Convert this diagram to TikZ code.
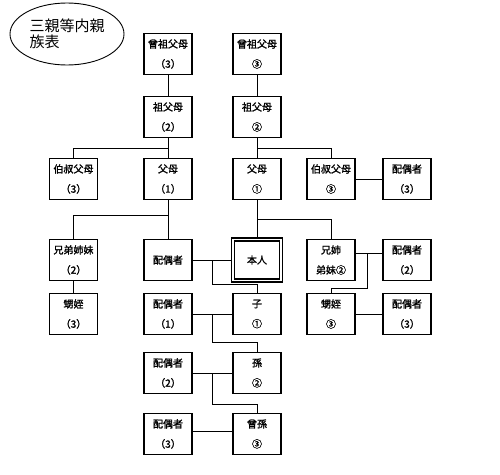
\documentclass[tikz,border=0pt]{standalone}
\usepackage{fontspec}
\setmainfont{Noto Sans CJK JP}[AutoFakeBold=1.6]
\usetikzlibrary{calc,shapes.geometric}
\tikzset{
  box/.style={draw,line width=1.3pt,minimum width=48pt,minimum height=41pt,
    align=center,inner sep=1pt,font=\fontsize{10}{20}\selectfont\bfseries},
  link/.style={line width=0.9pt},
}

\begin{document}
\begin{tikzpicture}[x=1pt,y=-1pt]
\useasboundingbox (0,0) rectangle (500,474);
\node[draw,ellipse,line width=0.9pt,inner sep=0pt,minimum width=114pt,minimum height=62pt,
  align=left,font=\fontsize{15}{16}\selectfont] (title) at (67,34) {三親等内親\\族表};
% ancestors
\node[box] (ggf1) at (168,54) {曾祖父母\\（3）};
\node[box] (ggf2) at (257,54) {曾祖父母\\③};
\node[box] (gf1) at (168,117) {祖父母\\（2）};
\node[box] (gf2) at (257,117) {祖父母\\②};
\node[box] (unc1) at (73.5,179) {伯叔父母\\（3）};
\node[box] (par1) at (168,179) {父母\\（1）};
\node[box] (par2) at (257,179) {父母\\①};
\node[box] (unc2) at (331,179) {伯叔父母\\③};
\node[box] (uncsp) at (407,179) {配偶者\\（3）};
% own generation
\node[box] (sib1) at (73.5,260) {兄弟姉妹\\（2）};
\node[box] (sp0) at (168,260) {配偶者};
\node[box,double,double distance=1.5pt] (self) at (257,260) {本人};
\node[box] (sib2) at (331,260) {兄姉\\弟妹②};
\node[box] (sibsp) at (407,260) {配偶者\\（2）};
% descendants
\node[box] (nep1) at (73.5,314) {甥姪\\（3）};
\node[box] (sp1) at (168,314) {配偶者\\（1）};
\node[box] (child) at (257,314) {子\\①};
\node[box] (nep2) at (331,314) {甥姪\\③};
\node[box] (nepsp) at (407,314) {配偶者\\（3）};
\node[box] (sp2) at (168,373) {配偶者\\（2）};
\node[box] (grand) at (257,373) {孫\\②};
\node[box] (sp3) at (168,434) {配偶者\\（3）};
\node[box] (ggrand) at (257,434) {曾孫\\③};
% lines of descent
\draw[link] (ggf1) -- (gf1);
\draw[link] (ggf2) -- (gf2);
\draw[link] (gf1) -- (par1);
\draw[link] ($(gf1.south)!.5!(par1.north)$) -| (unc1);
\draw[link] (gf2) -- (par2);
\draw[link] ($(gf2.south)!.5!(par2.north)$) -| (unc2);
\draw[link] (unc2) -- (uncsp);
\draw[link] (par1) -- (sp0);
\draw[link] ($(par1.south)!.4!(sp0.north)$) -| (sib1);
\draw[link] (par2) -- (self);
\draw[link] ($(par2.south)!.5!(self.north)$) -| (sib2);
\draw[link] (sib1) -- (nep1);
% marriages and children
\draw[link] (sp0) -- (self);
\coordinate (m0) at ($(sp0.east)!.5!(self.west)$);
\draw[link] (m0) -- ++(0,24) -| (child);
\draw[link] ([yshift=7pt]sib2.east) -- ([yshift=7pt]sibsp.west);
\coordinate (m2) at ($([yshift=7pt]sib2.east)!.45!([yshift=7pt]sibsp.west)$);
\draw[link] (m2) -- ++(0,35) -| (nep2);
\draw[link] (nep2) -- (nepsp);
\draw[link] (sp1) -- (child);
\coordinate (m1) at ($(sp1.east)!.5!(child.west)$);
\draw[link] (m1) -- ++(0,28) -| (grand);
\draw[link] (sp2) -- (grand);
\coordinate (m3) at ($(sp2.east)!.5!(grand.west)$);
\draw[link] (m3) -- ++(0,31) -| (ggrand);
\draw[link] ([yshift=3pt]sp3.east) -- ([yshift=3pt]ggrand.west);
\end{tikzpicture}
\end{document}
